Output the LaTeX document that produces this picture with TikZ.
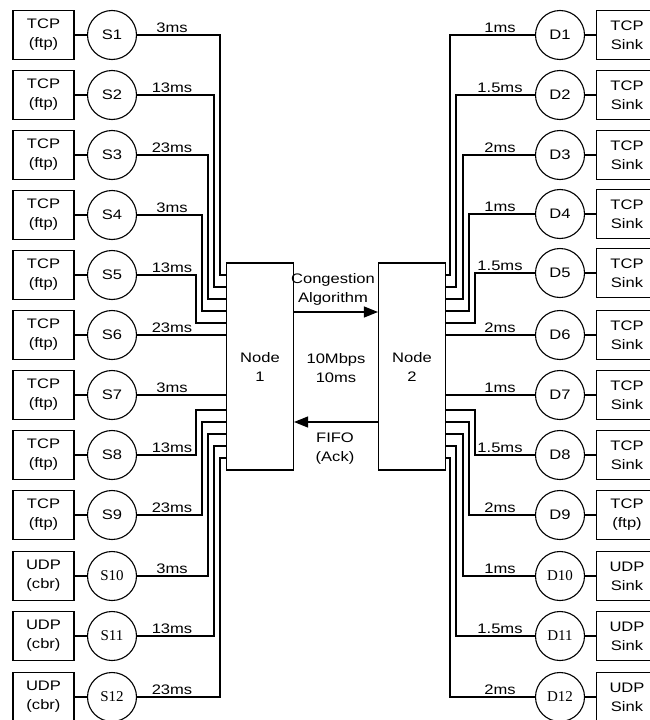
\documentclass[tikz,border=0pt]{standalone}
\usepackage{fontspec}
\setmainfont{Liberation Sans}[FakeStretch=1.2]
\newfontfamily\serifnum{Liberation Serif}
\newcommand\sernum{\serifnum\fontsize{15}{16}\selectfont}
\usetikzlibrary{arrows.meta}
\begin{document}
\begin{tikzpicture}[x=1pt,y=-1pt,
  line width=1.1pt,
  every node/.style={font=\fontsize{13.8}{19}\selectfont},
  app/.style={draw, minimum width=61pt, minimum height=49pt, inner sep=0pt, align=center},
  host/.style={draw, circle, minimum size=49pt, inner sep=0pt},
  router/.style={draw, minimum width=67pt, minimum height=207pt, inner sep=0pt, align=center},
  lbl/.style={anchor=south, inner sep=1.5pt},
  mid/.style={align=center, inner sep=0pt},
  arr/.style={-{Triangle[length=14pt,width=11pt]}}
]
\useasboundingbox (0,0) rectangle (650,720);
\clip (0,0) rectangle (650,720);

% routers
\node[router] (N1) at (260,366.5) {Node\\1};
\node[router] (N2) at (412,366.5) {Node\\2};

% left side
\foreach \i/\y/\a/\b/\d/\f in {
  1/35/TCP/(ftp)/3ms/\relax, 2/95/TCP/(ftp)/13ms/\relax, 3/155/TCP/(ftp)/23ms/\relax,
  4/215/TCP/(ftp)/3ms/\relax, 5/275/TCP/(ftp)/13ms/\relax, 6/335/TCP/(ftp)/23ms/\relax,
  7/395/TCP/(ftp)/3ms/\relax, 8/455/TCP/(ftp)/13ms/\relax, 9/515/TCP/(ftp)/23ms/\relax,
  10/576/UDP/(cbr)/3ms/\sernum, 11/636/UDP/(cbr)/13ms/\sernum, 12/697/UDP/(cbr)/23ms/\sernum}{
  \node[app] (A\i) at (43.5,\y) {\a\\\b};
  \node[host] (S\i) at (112,\y) {\f S\i};
  \draw (A\i) -- (S\i);
  \node[lbl] (L\i) at (172,\y) {\d};
}
\foreach \i/\xv/\yb in {1/220/275, 2/214/287, 3/208/299, 4/202/311, 5/196/323,
  8/196/410, 9/202/422, 10/208/434, 11/214/446, 12/220/458}{
  \draw (S\i.east) -| (\xv,\yb) -- (N1.west |- 0,\yb);
}
\draw (S6.east) -- (S6.east -| N1.west);
\draw (S7.east) -- (S7.east -| N1.west);

% right side
\foreach \i/\y/\a/\b/\d/\f in {
  1/35/TCP/Sink/1ms/\relax, 2/95/TCP/Sink/1.5ms/\relax, 3/155/TCP/Sink/2ms/\relax,
  4/214/TCP/Sink/1ms/\relax, 5/273/TCP/Sink/1.5ms/\relax, 6/335/TCP/Sink/2ms/\relax,
  7/395/TCP/Sink/1ms/\relax, 8/455/TCP/Sink/1.5ms/\relax, 9/515/TCP/(ftp)/2ms/\relax,
  10/576/UDP/Sink/1ms/\sernum, 11/636/UDP/Sink/1.5ms/\sernum, 12/697/UDP/Sink/2ms/\sernum}{
  \node[app] (B\i) at (627,\y) {\a\\\b};
  \node[host] (D\i) at (560,\y) {\f D\i};
  \draw (B\i) -- (D\i);
  \node[lbl] (R\i) at (500,\y) {\d};
}
\foreach \i/\xv/\yb in {1/450/275, 2/456/287, 3/463/299, 4/469/311, 5/475/323,
  8/475/410, 9/469/422, 10/463/434, 11/456/446, 12/450/458}{
  \draw (D\i.west) -| (\xv,\yb) -- (N2.east |- 0,\yb);
}
\draw (D6.west) -- (D6.west -| N2.east);
\draw (D7.west) -- (D7.west -| N2.east);

% link between routers
\draw[arr] (N1.east |- 0,312) -- (N2.west |- 0,312);
\draw[arr] (N2.west |- 0,422) -- (N1.east |- 0,422);
\node[mid] (cg) at (333,289) {Congestion\\Algorithm};
\node[mid] (bw) at (336,368) {10Mbps\\10ms};
\node[mid] (ff) at (335,449) {FIFO\\(Ack)};
\end{tikzpicture}
\end{document}
